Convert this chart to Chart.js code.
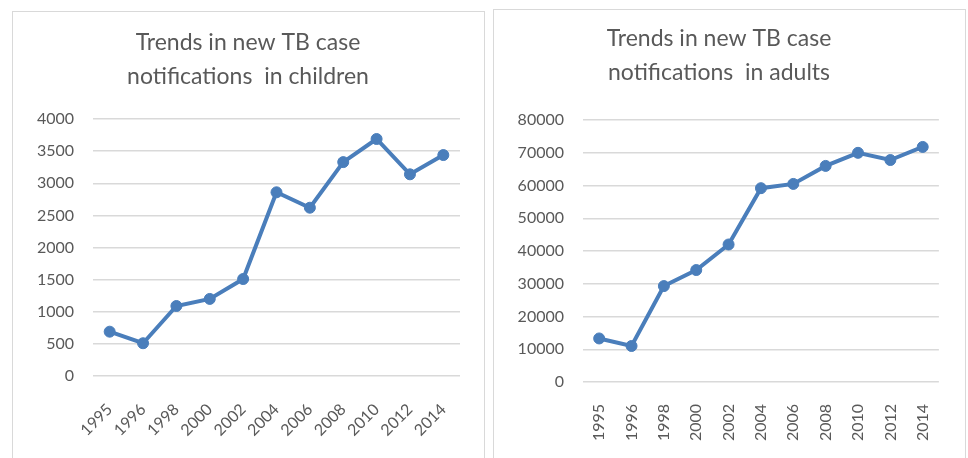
<!DOCTYPE html>
<html>
<head>
<meta charset="utf-8">
<script src="https://cdn.jsdelivr.net/npm/chart.js@4"></script>
<style>
  body { margin: 0; background: #fff; overflow: hidden; width: 968px; height: 458px; position: relative; }
  .frame { position: absolute; border: 1px solid #d9d9d9; background: #fff; }
  canvas { position: absolute; }
</style>
</head>
<body>
<div class="frame" style="left:12px; top:11px; width:471px; height:470px;"></div>
<div class="frame" style="left:493px; top:9px; width:471px; height:470px;"></div>
<canvas id="childChart" width="472" height="447" style="left:13px; top:11px;"></canvas>
<canvas id="adultChart" width="472" height="449" style="left:493px; top:9px;"></canvas>
<script>
const years = ['1995', '1996', '1998', '2000', '2002', '2004', '2006', '2008', '2010', '2012', '2014'];
const childCases = [690, 510, 1090, 1200, 1510, 2860, 2620, 3330, 3690, 3140, 3440];
const adultCases = [13300, 11000, 29300, 34200, 42000, 59200, 60500, 66000, 70000, 67800, 71800];
const childTicks = [0, 500, 1000, 1500, 2000, 2500, 3000, 3500, 4000];
const adultTicks = [0, 10000, 20000, 30000, 40000, 50000, 60000, 70000, 80000];

const lineBlue = '#4a7ebb';
const textGrey = '#595959';
const gridGrey = '#d9d9d9';
const fontFamily = 'Lato, "Open Sans", sans-serif';

function buildChart(id, title, values, ticks, opts) {
    const ctx = document.getElementById(id).getContext('2d');
    return new Chart(ctx, {
        type: 'line',
        data: {
            labels: years,
            datasets: [{
                data: values,
                borderColor: lineBlue,
                backgroundColor: lineBlue,
                borderWidth: 4,
                pointRadius: 5.5,
                pointBorderWidth: 1,
                pointBackgroundColor: lineBlue,
                tension: 0
            }]
        },
        options: {
            responsive: false,
            animation: false,
            layout: { padding: { left: opts.padLeft, right: opts.padRight, top: 0, bottom: 0 } },
            plugins: {
                legend: { display: false },
                tooltip: { enabled: false },
                title: {
                    display: true,
                    text: title,
                    color: textGrey,
                    font: { family: fontFamily, size: 23, weight: 'normal', lineHeight: 1.48 },
                    padding: { top: opts.titleTop, bottom: opts.titleBottom }
                }
            },
            scales: {
                x: {
                    offset: true,
                    grid: { display: false, drawTicks: false },
                    border: { display: false },
                    ticks: {
                        color: textGrey,
                        font: { family: fontFamily, size: 16 },
                        minRotation: opts.rotation,
                        maxRotation: opts.rotation,
                        autoSkip: false,
                        padding: opts.xPad
                    },
                    afterFit: (scale) => { scale.height = opts.xHeight; }
                },
                y: {
                    min: ticks[0],
                    max: ticks[ticks.length - 1],
                    afterBuildTicks: (scale) => { scale.ticks = ticks.map(v => ({ value: v })); },
                    grid: { color: gridGrey, lineWidth: 1.5, drawTicks: false },
                    border: { display: false },
                    ticks: {
                        color: textGrey,
                        font: { family: fontFamily, size: 16 },
                        padding: 19,
                        callback: (value) => String(value)
                    },
                    afterFit: (scale) => { scale.width = opts.yWidth; }
                }
            }
        }
    });
}

buildChart('childChart', ['Trends in new TB case', 'notifications  in children'], childCases, childTicks, {
    padLeft: 23, padRight: 25, yWidth: 57, xHeight: 82, rotation: 45, xPad: 24,
    titleTop: 15, titleBottom: 25
});

buildChart('adultChart', ['Trends in new TB case', 'notifications  in adults'], adultCases, adultTicks, {
    padLeft: 4, padRight: 24, yWidth: 86, xHeight: 76, rotation: 90, xPad: 22,
    titleTop: 13, titleBottom: 30
});
</script>
</body>
</html>
